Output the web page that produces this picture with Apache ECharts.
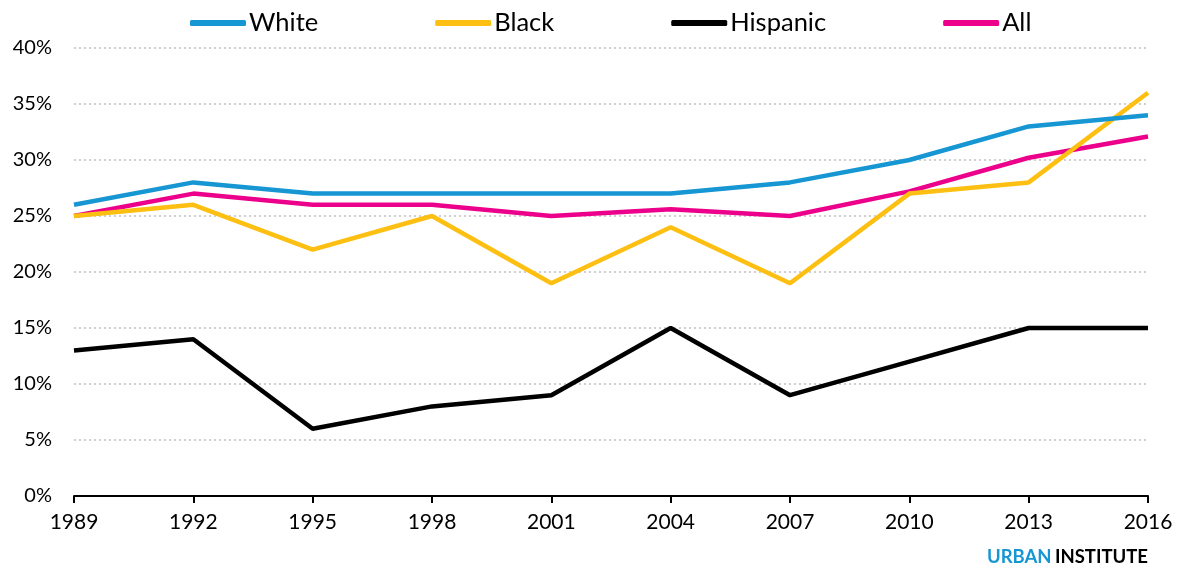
<!DOCTYPE html>
<html>
<head>
<meta charset="utf-8">
<script src="https://cdn.jsdelivr.net/npm/echarts@6/dist/echarts.min.js"></script>
<style>
  html, body { margin: 0; padding: 0; background: #fff; }
  #chart { width: 1182px; height: 570px; }
</style>
</head>
<body>
<div id="chart"></div>
<script>
// Survey years
const years = ['1989', '1992', '1995', '1998', '2001', '2004', '2007', '2010', '2013', '2016'];

// Share of families (%) by race/ethnicity
const white    = [26, 28, 27, 27, 27, 27, 28, 30, 33, 34];
const black    = [25, 26, 22, 25, 19, 24, 19, 27, 28, 36];
const hispanic = [13, 14, 6, 8, 9, 15, 9, 12, 15, 15];
const all      = [25, 27, 26, 26, 25, 25.6, 25, 27.2, 30.2, 32.1];

const seriesNames = ['White', 'Black', 'Hispanic', 'All'];
const seriesData = [white, black, hispanic, all];
const colors = ['#1696d2', '#fdbf11', '#000000', '#ec008b'];

const FONT = 'Lato, "Open Sans", sans-serif';

const chart = echarts.init(document.getElementById('chart'), null, { renderer: 'canvas' });

chart.setOption({
  animation: false,
  color: colors,
  textStyle: { fontFamily: FONT },
  grid: { left: 74, right: 34, top: 48, bottom: 74, containLabel: false },
  legend: {
    top: 5,
    left: 185,
    itemGap: 117,
    itemWidth: 56,
    itemHeight: 6,
    icon: 'roundRect',
    textStyle: { fontSize: 25.5, color: '#000', fontFamily: FONT, padding: [0, 0, 0, -2] },
    data: seriesNames
  },
  xAxis: {
    type: 'category',
    data: years,
    boundaryGap: false,
    axisLine: { show: true, lineStyle: { color: '#000', width: 2 } },
    axisTick: { show: true, alignWithLabel: true, length: 7, lineStyle: { color: '#000', width: 2 } },
    axisLabel: { fontSize: 21, color: '#000', margin: 16, fontFamily: FONT },
    splitLine: { show: false }
  },
  yAxis: {
    type: 'value',
    min: 0,
    max: 40,
    interval: 5,
    axisLine: { show: false },
    axisTick: { show: false },
    axisLabel: { fontSize: 20, color: '#000', margin: 22, formatter: '{value}%', fontFamily: FONT },
    splitLine: { show: true, lineStyle: { color: '#cfcfcf', width: 2, type: [2, 3] } }
  },
  series: seriesNames.map((name, i) => ({
    name: name,
    type: 'line',
    data: seriesData[i],
    symbol: 'none',
    lineStyle: { width: 4.5, color: colors[i] },
    itemStyle: { color: colors[i] },
    z: 10 - i
  })),
  graphic: [{
    type: 'text',
    right: 34,
    top: 548,
    style: {
      text: '{u|URBAN} {i|INSTITUTE}',
      rich: {
        u: { fill: '#1696d2', fontSize: 18.5, fontWeight: 'bold', fontFamily: FONT },
        i: { fill: '#000', fontSize: 18.5, fontWeight: 'bold', fontFamily: FONT }
      }
    }
  }]
});
</script>
</body>
</html>
